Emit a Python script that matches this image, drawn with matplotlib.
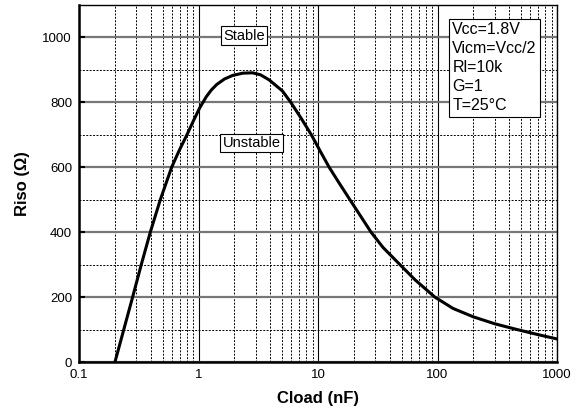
import numpy as np
import matplotlib.pyplot as plt
from matplotlib.ticker import FixedLocator, NullFormatter

plt.rcParams['font.family'] = ['Liberation Sans', 'DejaVu Sans']

# Riso vs Cload curve
cload = [0.2, 0.237, 0.281, 0.332, 0.395, 0.479, 0.596, 0.69, 0.80, 0.92, 1.02, 1.16,
         1.28, 1.42, 1.65, 1.93, 2.35, 2.83, 3.3, 3.91, 5.04, 5.92, 7.2, 8.8, 10.5, 12.4,
         15, 18.5, 22.5, 27.8, 35, 48.5, 65, 95, 135, 200, 300, 400, 500, 700, 1000]
riso = [0, 100, 200, 300, 400, 500, 600, 652, 700, 748, 782, 817,
        838, 855, 872, 883, 890, 891, 885, 869, 835, 800, 752, 700, 648, 600,
        552, 500, 452, 400, 353, 300, 253, 200, 165, 139, 118, 106, 97, 84, 71]

x_ticks = [0.1, 1, 10, 100, 1000]
x_ticklabels = ['0.1', '1', '10', '100', '1000']
y_ticks = [0, 200, 400, 600, 800, 1000]
conditions = ['Vcc=1.8V', 'Vicm=Vcc/2', 'Rl=10k', 'G=1', 'T=25°C']

fig = plt.figure(figsize=(5.79, 4.15), dpi=100)
ax = fig.add_axes([79/579, 53/415, 478/579, 357/415])

ax.set_xscale('log')
ax.set_xlim(0.1, 1000)
ax.set_ylim(0, 1100)

ax.set_xticks(x_ticks)
ax.set_xticklabels(x_ticklabels)
minor_x = [m * 10.0**d for d in range(-1, 3) for m in range(2, 10)]
ax.xaxis.set_minor_locator(FixedLocator(minor_x))
ax.xaxis.set_minor_formatter(NullFormatter())
ax.set_yticks(y_ticks)
ax.yaxis.set_minor_locator(FixedLocator([100, 300, 500, 700, 900, 1100]))

ax.grid(which='major', axis='y', color='#777777', linestyle='-', linewidth=1.6)
ax.grid(which='minor', axis='y', color='black', linestyle=(0, (2, 1.5)), linewidth=0.7)
ax.grid(which='major', axis='x', color='black', linestyle='-', linewidth=0.8)
ax.grid(which='minor', axis='x', color='black', linestyle=(0, (2, 1.5)), linewidth=0.7)
ax.set_axisbelow(True)

ax.tick_params(which='both', length=0, labelsize=9.5, pad=5)
ax.tick_params(axis='y', which='major', length=4, width=1.5, direction='in')

for s in ax.spines.values():
    s.set_linewidth(1.0)
ax.spines['bottom'].set_linewidth(1.8)
ax.spines['left'].set_linewidth(1.8)

ax.plot(cload, riso, color='black', linewidth=2.2, solid_joinstyle='round')

ax.set_xlabel('Cload (nF)', fontsize=12, fontweight='bold', labelpad=7)
ax.set_ylabel('Riso (Ω)', fontsize=12, fontweight='bold', labelpad=9)

box = dict(boxstyle='square,pad=0.15', facecolor='white', edgecolor='black', linewidth=0.8)
ax.text(2.4, 1006, 'Stable', fontsize=10.5, ha='center', va='center', bbox=box)
ax.text(2.78, 675, 'Unstable', fontsize=10.5, ha='center', va='center', bbox=box)

ax.text(0.781, 0.952, '\n'.join(conditions), transform=ax.transAxes, fontsize=11.5,
        ha='left', va='top', linespacing=1.34,
        bbox=dict(boxstyle='square,pad=0.2', facecolor='white', edgecolor='black', linewidth=0.8))

fig.savefig('out.png', dpi=100)
